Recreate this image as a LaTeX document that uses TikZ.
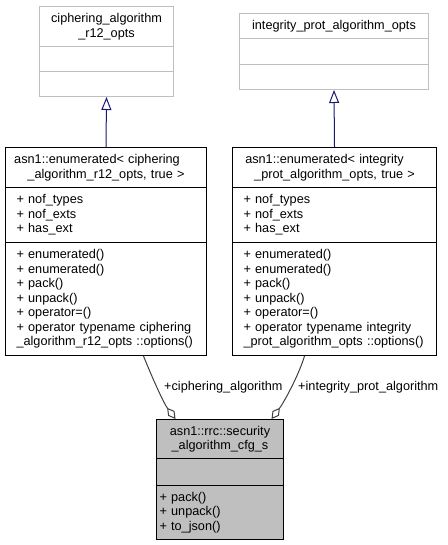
\documentclass[tikz,border=0pt]{standalone}
\usepackage{fontspec}
\setmainfont{Liberation Sans}
\usepackage{xcolor}
\usetikzlibrary{arrows.meta,positioning}

\definecolor{inheritblue}{HTML}{191970}
\definecolor{framegray}{HTML}{BFBFBF}
\definecolor{usegray}{HTML}{404040}

\begin{document}
\begin{tikzpicture}[
x=1pt, y=-1pt,
font=\fontsize{12.7}{14.5}\selectfont,
part/.style={draw, fill=white, line width=1pt, anchor=north west, inner xsep=11pt, inner ysep=0pt, align=left},
title/.style={part, align=center, inner xsep=0pt},
base/.style={draw=framegray},
focus/.style={fill=framegray},
inherit/.style={draw=inheritblue, line width=1pt, -{Triangle[open, length=13pt, width=10pt]}},
member/.style={draw=usegray, line width=1pt, -{Diamond[open, length=14pt, width=8pt]}},
rolelbl/.style={anchor=west, inner sep=0pt}
]
\useasboundingbox (0,0) rectangle (447,545);

% Base classes (top)
\node[title, base, minimum width=134pt, text width=134pt, minimum height=40pt] (cipherOptsT) at (39,6) {ciphering\_algorithm\\\_r12\_opts};
\node[part, base, minimum width=134pt, text width=112pt, minimum height=25pt] (cipherOptsA) at (39,46) {};
\node[part, base, minimum width=134pt, text width=112pt, minimum height=25pt] (cipherOptsM) at (39,71) {};

\node[title, base, minimum width=189pt, text width=189pt, minimum height=25pt] (integOptsT) at (239,13) {integrity\_prot\_algorithm\_opts};
\node[part, base, minimum width=189pt, text width=167pt, minimum height=26pt] (integOptsA) at (239,38) {};
\node[part, base, minimum width=189pt, text width=167pt, minimum height=25pt] (integOptsM) at (239,64) {};

% Enumerated templates (middle)
\node[title, minimum width=201pt, text width=201pt, minimum height=40pt] (cipherEnumT) at (5,147) {asn1::enumerated< ciphering\rule{18pt}{0pt}\\\_algorithm\_r12\_opts, true >};
\node[part, minimum width=201pt, text width=179pt, minimum height=55pt] (cipherEnumA) at (5,187) {+ nof\_types\\+ nof\_exts\\+ has\_ext};
\node[part, minimum width=201pt, text width=179pt, minimum height=113pt] (cipherEnumM) at (5,242) {+ enumerated()\\+ enumerated()\\+ pack()\\+ unpack()\\+ operator=()\\+ operator typename ciphering\\\_algorithm\_r12\_opts ::options()};

\node[title, minimum width=204pt, text width=204pt, minimum height=40pt] (integEnumT) at (232,147) {asn1::enumerated< integrity\rule{20pt}{0pt}\\\_prot\_algorithm\_opts, true >};
\node[part, minimum width=204pt, text width=182pt, minimum height=55pt] (integEnumA) at (232,187) {+ nof\_types\\+ nof\_exts\\+ has\_ext};
\node[part, minimum width=204pt, text width=182pt, minimum height=113pt] (integEnumM) at (232,242) {+ enumerated()\\+ enumerated()\\+ pack()\\+ unpack()\\+ operator=()\\+ operator typename integrity\\\_prot\_algorithm\_opts ::options()};

% Security algorithm config (bottom)
\node[title, focus, minimum width=127pt, text width=127pt, minimum height=39pt] (secAlgT) at (156,419) {asn1::rrc::security\\\_algorithm\_cfg\_s};
\node[part, focus, minimum width=127pt, text width=121pt, inner xsep=3pt, minimum height=27pt] (secAlgA) at (156,458) {};
\node[part, focus, minimum width=127pt, text width=121pt, inner xsep=3pt, minimum height=54pt] (secAlgM) at (156,485) {+ pack()\\+ unpack()\\+ to\_json()};

% Inheritance
\draw[inherit] (cipherEnumT.north) -- (cipherOptsM.south);
\draw[inherit] (integEnumT.north) -- (integOptsM.south);

% Members
\draw[member] ([xshift=37.5pt]cipherEnumM.south) .. controls +(8,20) and +(-12,-16) .. ([xshift=-44.5pt]secAlgT.north);
\draw[member] ([xshift=-30pt]integEnumM.south) .. controls +(-6,20) and +(12,-16) .. ([xshift=51.5pt]secAlgT.north);

\node[rolelbl] (cipherLbl) at (164,387) {+ciphering\_algorithm};
\node[rolelbl] (integLbl) at (298,387) {+integrity\_prot\_algorithm};

\end{tikzpicture}
\end{document}
